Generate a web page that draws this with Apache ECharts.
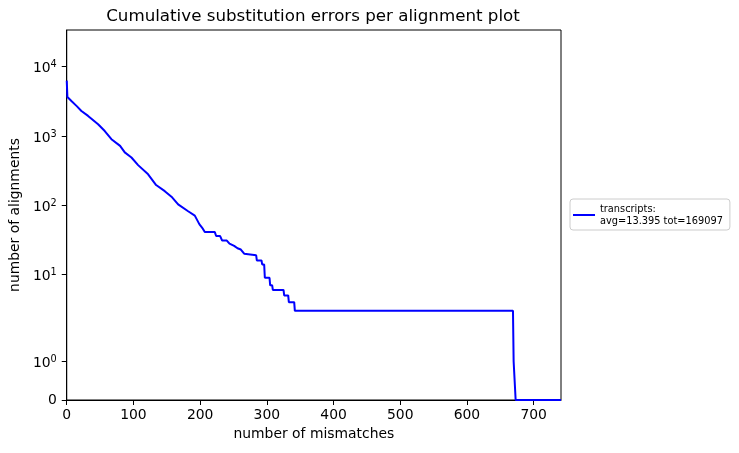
<!DOCTYPE html>
<html><head><meta charset="utf-8">
<script src="https://cdn.jsdelivr.net/npm/echarts@6/dist/echarts.min.js"></script>
<style>html,body{margin:0;padding:0;background:#fff}#c{width:739px;height:453px}</style>
</head><body><div id="c"></div>
<script>
// ---- data ----
const mismatches = [0, 1, 7, 15, 22, 32, 47, 57, 67, 80, 87, 97, 107, 122, 134, 147, 157, 167, 182, 192, 199, 204, 207, 222, 224, 230, 233, 240, 244, 251, 256, 261, 266, 268, 284, 285, 292, 293, 296, 297, 304, 305, 308, 309, 325, 326, 332, 333, 341, 342, 669, 670, 672, 673, 741];
const alignments = [6300, 3650, 3200, 2700, 2300, 1950, 1480, 1180, 900, 720, 580, 490, 380, 280, 196, 160, 133, 103, 82, 71, 53, 46, 41, 41, 36, 36, 31, 31, 28, 26, 24, 23, 20, 19, 19, 16, 16, 14, 14, 9, 9, 7, 7, 6, 6, 5, 5, 4, 4, 3, 3, 1, 1, 0, 0];
const xTicks = [0, 100, 200, 300, 400, 500, 600, 700];
const yTickValues = [0, 1, 10, 100, 1000, 10000];
const yTickExponents = [null, '0', '1', '2', '3', '4'];
const seriesName = 'transcripts:\navg=13.395 tot=169097';
const titleText = 'Cumulative substitution errors per alignment plot';

// symmetric-log scale (linear below threshold, log above), in decade units
const LINTHRESH = 2;
const LINSCALE_ADJ = 1 / (1 - 1 / 10);
function symlog(v) {
  return v <= LINTHRESH ? v * LINSCALE_ADJ / LINTHRESH : LINSCALE_ADJ + Math.log10(v / LINTHRESH);
}
const Y_MAX = 5.34;
const X_MAX = 741;

const FONT = 'DejaVu Sans';
const chart = echarts.init(document.getElementById('c'), null, {renderer: 'canvas'});
const yTickPos = yTickValues.map(symlog);

chart.setOption({
  animation: false,
  textStyle: {fontFamily: FONT, color: '#000'},
  graphic: [{
    type: 'text', x: 313, y: 17,
    style: {text: titleText, font: '16.7px "DejaVu Sans"', fill: '#000', align: 'center', verticalAlign: 'middle'}
  }],
  grid: {left: 65, right: 178, top: 30, bottom: 53, show: true, borderColor: '#000', borderWidth: 1, backgroundColor: '#fff'},
  xAxis: {
    type: 'value', min: 0, max: X_MAX,
    name: 'number of mismatches', nameLocation: 'middle', nameGap: 26,
    nameTextStyle: {fontFamily: FONT, fontSize: 13.9, color: '#000'},
    axisLine: {show: true, onZero: false, lineStyle: {color: '#000', width: 1}},
    axisTick: {show: true, length: 5, customValues: xTicks, lineStyle: {color: '#000', width: 1}},
    axisLabel: {customValues: xTicks, margin: 8, fontFamily: FONT, fontSize: 13.9, color: '#000'},
    splitLine: {show: false}
  },
  yAxis: {
    type: 'value', min: 0, max: Y_MAX,
    name: 'number of alignments', nameLocation: 'middle', nameGap: 40,
    nameTextStyle: {fontFamily: FONT, fontSize: 13.9, color: '#000'},
    axisLine: {show: true, onZero: false, lineStyle: {color: '#000', width: 1}},
    axisTick: {show: true, length: 5, customValues: yTickPos, lineStyle: {color: '#000', width: 1}},
    axisLabel: {
      customValues: yTickPos, margin: 10, fontFamily: FONT, fontSize: 13.9, color: '#000',
      formatter: function (val) {
        let best = 0, d = Infinity;
        yTickPos.forEach((p, i) => { if (Math.abs(p - val) < d) { d = Math.abs(p - val); best = i; } });
        const e = yTickExponents[best];
        return e === null ? '0' : '{b|10}{s|' + e + '}';
      },
      rich: {
        b: {fontFamily: FONT, fontSize: 13.9, color: '#000', padding: [4, 0, 0, 0]},
        s: {fontFamily: FONT, fontSize: 9.7, color: '#000', padding: [0, 0, 4, 0]}
      }
    },
    splitLine: {show: false}
  },
  legend: {
    data: [{name: seriesName}],
    left: 570, top: 199,
    icon: 'rect', itemWidth: 22, itemHeight: 2,
    padding: [4, 7, 3, 3],
    borderColor: '#cccccc', borderWidth: 1, borderRadius: 3,
    backgroundColor: '#fff',
    textStyle: {fontFamily: FONT, fontSize: 9.8, lineHeight: 12, color: '#000'}
  },
  series: [{
    type: 'line', name: seriesName,
    data: mismatches.map((x, i) => [x, symlog(alignments[i])]),
    showSymbol: false, clip: true,
    color: '#0000ff',
    lineStyle: {color: '#0000ff', width: 2},
    emphasis: {disabled: true}
  }]
});
</script>
</body></html>
